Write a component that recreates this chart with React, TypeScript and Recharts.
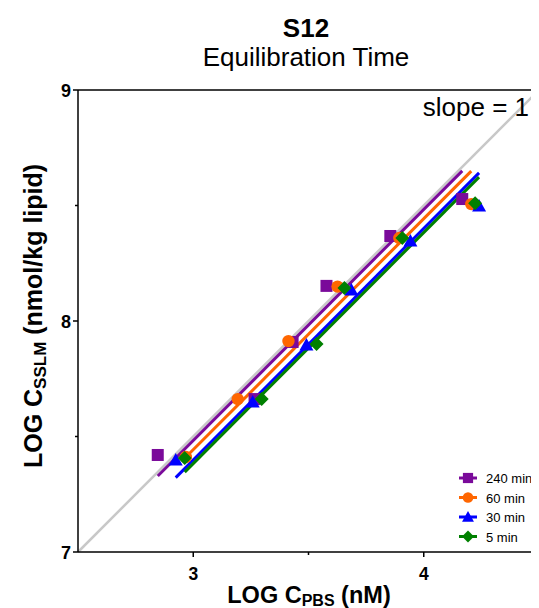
import React from 'react';
import { ComposedChart, Scatter, XAxis, YAxis, ReferenceLine, Legend } from 'recharts';

const seriesNames = ['240 min', '60 min', '30 min', '5 min'];
const seriesColors = ['#7A0A9A', '#FF6600', '#0000FF', '#008000'];

const pts240 = [
  { x: 2.846, y: 7.42 }, { x: 3.266, y: 7.662 }, { x: 3.431, y: 7.909 },
  { x: 3.578, y: 8.152 }, { x: 3.855, y: 8.368 }, { x: 4.167, y: 8.528 },
];
const pts60 = [
  { x: 2.968, y: 7.411 }, { x: 3.193, y: 7.662 }, { x: 3.413, y: 7.913 },
  { x: 3.626, y: 8.149 }, { x: 3.894, y: 8.359 }, { x: 4.206, y: 8.506 },
];
const pts30 = [
  { x: 2.924, y: 7.398 }, { x: 3.258, y: 7.649 }, { x: 3.491, y: 7.896 },
  { x: 3.686, y: 8.134 }, { x: 3.942, y: 8.346 }, { x: 4.24, y: 8.498 },
];
const pts5 = [
  { x: 2.963, y: 7.407 }, { x: 3.297, y: 7.662 }, { x: 3.535, y: 7.9 },
  { x: 3.656, y: 8.143 }, { x: 3.907, y: 8.359 }, { x: 4.223, y: 8.51 },
];

const fit240 = [{ x: 2.846, y: 7.329 }, { x: 4.167, y: 8.65 }];
const fit60 = [{ x: 2.968, y: 7.411 }, { x: 4.206, y: 8.649 }];
const fit30 = [{ x: 2.924, y: 7.322 }, { x: 4.24, y: 8.641 }];
const fit5 = [{ x: 2.963, y: 7.346 }, { x: 4.24, y: 8.623 }];

const identityLine = [{ x: 2.5, y: 7 }, { x: 4.5, y: 9 }];

const xTicks = [3, 3.5, 4];
const yTicks = [7, 7.5, 8, 8.5, 9];
const xDomain = [2.5, 4.5];
const yDomain = [7, 9];

const FONT = '"Liberation Sans", Arial, Helvetica, sans-serif';
const W = 531;
const H = 600;

const drawMarker = (kind: number, cx: number, cy: number, color: string, s = 1) => {
  if (kind === 0) return <rect x={cx - 6 * s} y={cy - 6 * s} width={12 * s} height={12 * s} fill={color} />;
  if (kind === 1) return <circle cx={cx} cy={cy} r={6.2 * s} fill={color} />;
  if (kind === 2)
    return (
      <polygon
        points={`${cx},${cy - 7 * s} ${cx + 7 * s},${cy + 5.5 * s} ${cx - 7 * s},${cy + 5.5 * s}`}
        fill={color}
      />
    );
  return (
    <polygon
      points={`${cx},${cy - 7 * s} ${cx + 7 * s},${cy} ${cx},${cy + 7 * s} ${cx - 7 * s},${cy}`}
      fill={color}
    />
  );
};

const makeShape = (kind: number, color: string) => (p: any) => <g>{drawMarker(kind, p.cx, p.cy, color)}</g>;
const EmptyShape = () => <g />;

const YTick = (p: any) => {
  const v = p.payload.value;
  const major = Number.isInteger(v);
  return (
    <g>
      <line x1={p.x - (major ? 5 : 3)} x2={p.x} y1={p.y} y2={p.y} stroke="#000" strokeWidth={1.5} />
      {major && (
        <text x={p.x - 7} y={p.y + 6.5} textAnchor="end" fontFamily={FONT} fontWeight="bold" fontSize={18} fill="#000">
          {v}
        </text>
      )}
    </g>
  );
};

const XTick = (p: any) => {
  const v = p.payload.value;
  const major = Number.isInteger(v);
  return (
    <g>
      <line x1={p.x} x2={p.x} y1={p.y} y2={p.y + (major ? 5 : 3)} stroke="#000" strokeWidth={1.5} />
      {major && (
        <text x={p.x} y={p.y + 27.5} textAnchor="middle" fontFamily={FONT} fontWeight="bold" fontSize={17.5} fill="#000">
          {v}
        </text>
      )}
    </g>
  );
};

const LegendBox = () => (
  <svg width={84} height={80} style={{ display: 'block', overflow: 'visible' }}>
    {seriesNames.map((n, i) => {
      const cy = 10 + i * 19.5;
      return (
        <g key={n}>
          <line x1={4} x2={22} y1={cy} y2={cy} stroke={seriesColors[i]} strokeWidth={3} />
          {drawMarker(i, 13, cy, seriesColors[i], 0.85)}
          <text x={31} y={cy + 5} fontFamily={FONT} fontSize={13} fill="#000">
            {n}
          </text>
        </g>
      );
    })}
  </svg>
);

const allPts = [pts240, pts60, pts30, pts5];
const allFits = [fit240, fit60, fit30, fit5];

export default function App() {
  return (
    <div style={{ position: 'relative', width: W, height: H, fontFamily: FONT }}>
      <ComposedChart width={W} height={H} margin={{ top: 82, right: 0, bottom: 0, left: 0 }}>
        <XAxis
          type="number"
          dataKey="x"
          domain={xDomain}
          ticks={xTicks}
          interval={0}
          allowDataOverflow
          height={56}
          tickSize={0}
          tickMargin={0}
          tickLine={false}
          tick={<XTick />}
          axisLine={{ stroke: '#000', strokeWidth: 1.5 }}
        />
        <YAxis
          type="number"
          dataKey="y"
          domain={yDomain}
          ticks={yTicks}
          interval={0}
          allowDataOverflow
          width={70}
          tickSize={0}
          tickMargin={0}
          tickLine={false}
          tick={<YTick />}
          axisLine={{ stroke: '#000', strokeWidth: 1.5 }}
        />
        <ReferenceLine y={9} stroke="#000" strokeWidth={1.5} />
        <ReferenceLine segment={identityLine} stroke="#C8C8C8" strokeWidth={2.5} />
        {allFits.map((f, i) => (
          <Scatter
            key={'fit' + i}
            data={f}
            line={{ stroke: seriesColors[i], strokeWidth: 3 }}
            shape={EmptyShape}
            legendType="none"
            isAnimationActive={false}
          />
        ))}
        {allPts.map((d, i) => (
          <Scatter
            key={'pts' + i}
            name={seriesNames[i]}
            data={d}
            fill={seriesColors[i]}
            shape={makeShape(i, seriesColors[i])}
            isAnimationActive={false}
          />
        ))}
        <Legend
          layout="horizontal"
          verticalAlign="middle"
          align="center"
          content={() => <LegendBox />}
          wrapperStyle={{ position: 'absolute', left: 447, top: 460, width: 84, height: 80 }}
        />
      </ComposedChart>
      <svg
        width={W}
        height={H}
        style={{ position: 'absolute', left: 0, top: 0, pointerEvents: 'none' }}
        fontFamily={FONT}
      >
        <text x={298} y={29} textAnchor="middle" fontWeight="bold" fontSize={26} fill="#000">
          S12
        </text>
        <text x={298} y={58} textAnchor="middle" fontSize={26} fill="#000">
          Equilibration Time
        </text>
        <text x={521} y={108} textAnchor="end" fontSize={26} fill="#000">
          slope = 1
        </text>
        <text x={301} y={595} textAnchor="middle" fontWeight="bold" fontSize={23.5} fill="#000">
          LOG C
          <tspan fontSize={16} dy={3}>PBS</tspan>
          <tspan dy={-3}> (nM)</tspan>
        </text>
        <text
          x={0}
          y={0}
          transform="translate(34,308) rotate(-90)"
          textAnchor="middle"
          fontWeight="bold"
          fontSize={25}
          fill="#000"
        >
          LOG C
          <tspan fontSize={17} dy={4}>SSLM</tspan>
          <tspan dy={-4}> (nmol/kg lipid)</tspan>
        </text>
      </svg>
    </div>
  );
}
